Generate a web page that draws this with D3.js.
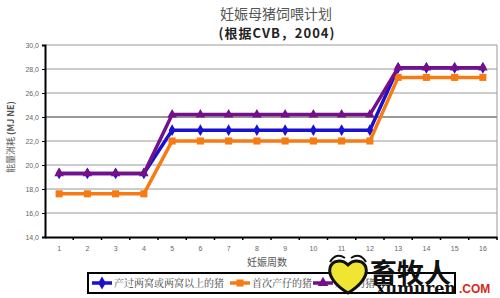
<!DOCTYPE html>
<html>
<head>
<meta charset="utf-8">
<script src="https://cdn.jsdelivr.net/npm/d3@7"></script>
<style>
  body { margin: 0; background: #fff; }
  svg { display: block; font-family: "Liberation Sans", Arial, sans-serif; }
</style>
</head>
<body>
<svg id="chart" width="500" height="298"></svg>
<script>
const weeks = d3.range(1, 17)
const yTicks = [14, 16, 18, 20, 22, 24, 26, 28, 30]
const seriesNames = ["产过两窝或两窝以上的猪", "首次产仔的猪", "后备的猪"]
const multiparous = [19.3,19.3,19.3,19.3, 22.9,22.9,22.9,22.9,22.9,22.9,22.9,22.9, 28.1,28.1,28.1,28.1]
const firstParity = [17.6,17.6,17.6,17.6, 22.0,22.0,22.0,22.0,22.0,22.0,22.0,22.0, 27.3,27.3,27.3,27.3]
const gilts = [19.3,19.3,19.3,19.3, 24.2,24.2,24.2,24.2,24.2,24.2,24.2,24.2, 28.1,28.1,28.1,28.1]
const seriesValues = [multiparous, firstParity, gilts]
const colors = ["#1a10d0", "#f77a12", "#74108a"]
const shapes = [d3.symbolDiamond, d3.symbolSquare, d3.symbolTriangle]

const svg = d3.select("#chart")
const margin = {top: 45, bottom: 61, left: 45, right: 3}
const W = 500, H = 298

const x = d3.scaleBand().domain(weeks).range([margin.left, W - margin.right]).padding(0)
const y = d3.scaleLinear().domain([14, 30]).range([H - margin.bottom, margin.top])

// grid
svg.append("g").selectAll("line").data(yTicks.slice(1))
  .enter().append("line")
    .attr("x1", margin.left).attr("x2", W - margin.right)
    .attr("y1", d => y(d)).attr("y2", d => y(d))
    .attr("stroke", d => d == 24 ? "#333" : "#999").attr("stroke-width", 1)
svg.append("line")
  .attr("x1", W - margin.right).attr("x2", W - margin.right)
  .attr("y1", y(30)).attr("y2", y(14)).attr("stroke", "#999")

// axes
const yAxis = svg.append("g").attr("transform", `translate(${margin.left},0)`)
  .call(d3.axisLeft(y).tickValues(yTicks).tickSize(3).tickFormat(d => d3.format(".1f")(d).replace(".", ",")))
yAxis.select(".domain").attr("stroke", "#000").attr("stroke-width", 2)
yAxis.selectAll(".tick text").attr("font-size", 7).attr("fill", "#666")

const xAxis = svg.append("g").attr("transform", `translate(0,${y(14)})`)
  .call(d3.axisBottom(x).tickSize(0).tickPadding(9))
xAxis.select(".domain").attr("stroke", "#000").attr("stroke-width", 2)
xAxis.selectAll(".tick text").attr("font-size", 7).attr("fill", "#666")
xAxis.selectAll(".tick").append("line")
  .attr("x1", x.bandwidth() / 2).attr("x2", x.bandwidth() / 2)
  .attr("y1", 0).attr("y2", 3).attr("stroke", "#000").attr("stroke-width", 1.5)

// series
const line = d3.line().x((d, i) => x(weeks[i]) + x.bandwidth() / 2).y(d => y(d))
seriesValues.forEach((vals, s) => {
  svg.append("path").datum(vals)
    .attr("d", line).attr("fill", "none")
    .attr("stroke", colors[s]).attr("stroke-width", 3.5)
  svg.append("g").selectAll("path").data(vals)
    .enter().append("path")
      .attr("transform", (d, i) => `translate(${x(weeks[i]) + x.bandwidth() / 2},${y(d)})`)
      .attr("d", d3.symbol().type(shapes[s]).size(s == 1 ? 50 : 40))
      .attr("fill", colors[s])
})

// titles
svg.append("text").attr("x", 276).attr("y", 19).attr("text-anchor", "middle")
  .attr("font-size", 14).attr("fill", "#555").attr("font-family", "Noto Sans CJK SC")
  .text("妊娠母猪饲喂计划")
svg.append("text").attr("x", 277).attr("y", 38).attr("text-anchor", "middle")
  .attr("font-size", 13).attr("font-weight", "bold").attr("fill", "#222").attr("font-family", "Noto Sans CJK SC")
  .attr("letter-spacing", 1)
  .text("(根据CVB，2004)")
svg.append("text").attr("x", 267).attr("y", 266).attr("text-anchor", "middle")
  .attr("font-size", 10).attr("fill", "#555").attr("font-family", "Noto Sans CJK SC")
  .text("妊娠周数")
const yl = svg.append("text").attr("transform", "translate(14,137) rotate(-90)").attr("text-anchor", "middle")
  .attr("font-size", 9).attr("fill", "#555").attr("font-family", "Noto Sans CJK SC")
yl.append("tspan").text("能量消耗 ")
yl.append("tspan").attr("font-weight", "bold").text("(MJ NE)")

// legend
const lg = svg.append("g")
lg.append("rect").attr("x", 88).attr("y", 273).attr("width", 367).attr("height", 20)
  .attr("fill", "#fff").attr("stroke", "#000").attr("stroke-width", 2)
const legX = [92, 230, 313]
seriesNames.forEach((name, s) => {
  lg.append("line").attr("x1", legX[s]).attr("x2", legX[s] + 20).attr("y1", 283).attr("y2", 283)
    .attr("stroke", colors[s]).attr("stroke-width", 3.5)
  lg.append("path").attr("transform", `translate(${legX[s] + 10},283)`)
    .attr("d", d3.symbol().type(shapes[s]).size(50)).attr("fill", colors[s])
  lg.append("text").attr("x", legX[s] + 22).attr("y", 287)
    .attr("font-size", 10).attr("fill", "#444").attr("font-family", "Noto Serif CJK SC, Noto Sans CJK SC")
    .text(name)
})

// watermark
const wm = svg.append("g")
wm.append("path")
  .attr("d", "M348,293 C336,286 328,276 330,268 C332,260 342,259 348,265 C354,259 364,260 366,268 C368,276 360,286 348,293 Z")
  .attr("fill", "#f0e632").attr("stroke", "#111").attr("stroke-width", 3)
wm.append("path").attr("d", "M330,262 Q336,252 345,258").attr("fill", "none").attr("stroke", "#111").attr("stroke-width", 2)
wm.append("path").attr("d", "M351,258 Q360,252 366,262").attr("fill", "none").attr("stroke", "#111").attr("stroke-width", 2)
wm.append("text").attr("x", 370).attr("y", 283).attr("font-size", 27).attr("font-weight", "bold")
  .attr("fill", "#111").attr("font-family", "Noto Sans CJK SC").text("畜牧人")
wm.append("text").attr("x", 376).attr("y", 294).attr("font-size", 16).attr("font-weight", "bold")
  .attr("fill", "#111").attr("font-family", "DejaVu Serif").text("xumuren")
wm.append("text").attr("x", 459).attr("y", 293).attr("font-size", 12).attr("font-weight", "bold")
  .attr("fill", "#d42a1a").attr("font-family", "Liberation Sans").text(".COM")
</script>
</body>
</html>
